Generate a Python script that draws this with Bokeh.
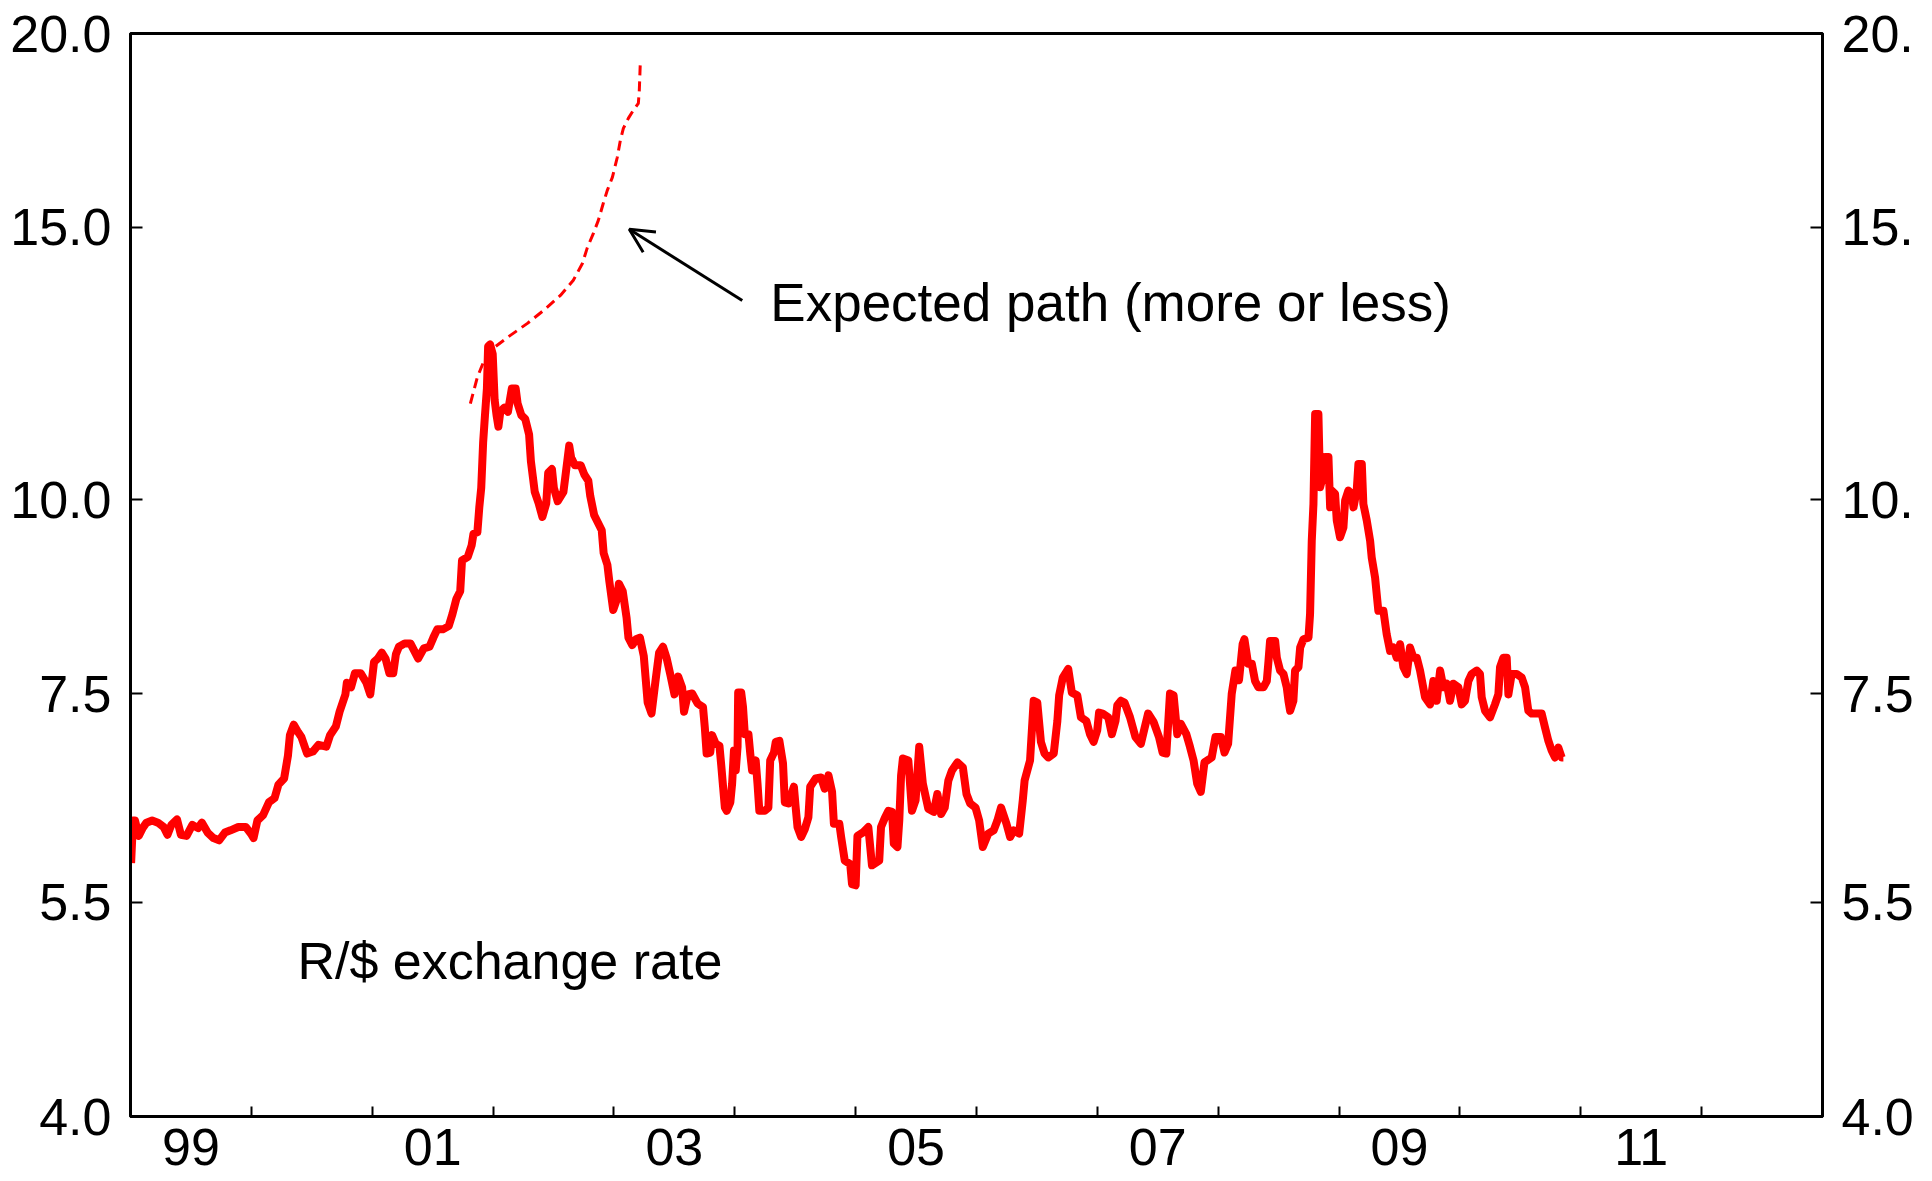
from bokeh.plotting import figure
from bokeh.models import Range1d, LogAxis, FixedTicker, Label, Arrow, OpenHead
from bokeh.embed import file_html
from bokeh.resources import INLINE

FONT = "Liberation Sans"
RED = "#ff0000"

# ---- data ----
dates = [
    1999.005, 1999.021, 1999.037, 1999.069, 1999.100, 1999.132, 1999.179, 1999.227, 1999.274, 1999.306,
    1999.338, 1999.385, 1999.417, 1999.464, 1999.512, 1999.559, 1999.591, 1999.638, 1999.686, 1999.733,
    1999.781, 1999.828, 1999.892, 1999.955, 2000.002, 2000.018, 2000.050, 2000.097, 2000.145, 2000.192,
    2000.224, 2000.271, 2000.303, 2000.319, 2000.351, 2000.382, 2000.414, 2000.461, 2000.509, 2000.556,
    2000.620, 2000.651, 2000.699, 2000.730, 2000.778, 2000.790, 2000.825, 2000.857, 2000.905, 2000.952,
    2000.984, 2001.015, 2001.047, 2001.079, 2001.110, 2001.142, 2001.174, 2001.196, 2001.221, 2001.269,
    2001.316, 2001.348, 2001.380, 2001.427, 2001.474, 2001.506, 2001.538, 2001.585, 2001.633, 2001.664,
    2001.696, 2001.728, 2001.743, 2001.791, 2001.823, 2001.838, 2001.870, 2001.886, 2001.902, 2001.918,
    2001.933, 2001.949, 2001.959, 2001.975, 2001.997, 2002.013, 2002.029, 2002.044, 2002.060, 2002.092,
    2002.123, 2002.155, 2002.187, 2002.203, 2002.234, 2002.266, 2002.298, 2002.313, 2002.345, 2002.377,
    2002.408, 2002.440, 2002.456, 2002.487, 2002.503, 2002.535, 2002.582, 2002.598, 2002.630, 2002.646,
    2002.677, 2002.725, 2002.756, 2002.788, 2002.804, 2002.836, 2002.867, 2002.899, 2002.915, 2002.946,
    2002.962, 2002.994, 2003.025, 2003.041, 2003.073, 2003.105, 2003.120, 2003.152, 2003.184, 2003.215,
    2003.247, 2003.279, 2003.311, 2003.342, 2003.374, 2003.406, 2003.437, 2003.469, 2003.501, 2003.532,
    2003.564, 2003.580, 2003.612, 2003.647, 2003.692, 2003.737, 2003.752, 2003.767, 2003.797, 2003.812,
    2003.842, 2003.873, 2003.888, 2003.903, 2003.918, 2003.933, 2003.963, 2003.978, 2003.993, 2004.008,
    2004.023, 2004.028, 2004.053, 2004.068, 2004.083, 2004.113, 2004.128, 2004.143, 2004.173, 2004.188,
    2004.203, 2004.248, 2004.278, 2004.293, 2004.324, 2004.339, 2004.369, 2004.399, 2004.414, 2004.444,
    2004.489, 2004.504, 2004.519, 2004.549, 2004.579, 2004.609, 2004.624, 2004.669, 2004.714, 2004.744,
    2004.775, 2004.805, 2004.820, 2004.865, 2004.880, 2004.910, 2004.955, 2004.970, 2005.000, 2005.015,
    2005.060, 2005.105, 2005.135, 2005.195, 2005.210, 2005.240, 2005.271, 2005.301, 2005.316, 2005.346,
    2005.361, 2005.376, 2005.391, 2005.436, 2005.466, 2005.496, 2005.526, 2005.556, 2005.601, 2005.646,
    2005.676, 2005.707, 2005.737, 2005.767, 2005.797, 2005.842, 2005.887, 2005.917, 2005.947, 2005.992,
    2006.022, 2006.052, 2006.097, 2006.142, 2006.173, 2006.203, 2006.248, 2006.278, 2006.308, 2006.353,
    2006.383, 2006.398, 2006.443, 2006.473, 2006.503, 2006.533, 2006.563, 2006.594, 2006.639, 2006.669,
    2006.684, 2006.714, 2006.759, 2006.789, 2006.834, 2006.864, 2006.909, 2006.939, 2006.969, 2006.999,
    2007.014, 2007.044, 2007.090, 2007.120, 2007.150, 2007.165, 2007.195, 2007.225, 2007.270, 2007.315,
    2007.360, 2007.390, 2007.420, 2007.465, 2007.510, 2007.540, 2007.571, 2007.601, 2007.631, 2007.661,
    2007.691, 2007.736, 2007.766, 2007.796, 2007.826, 2007.856, 2007.886, 2007.946, 2007.977, 2008.022,
    2008.052, 2008.082, 2008.112, 2008.142, 2008.172, 2008.202, 2008.217, 2008.247, 2008.278, 2008.305,
    2008.333, 2008.374, 2008.402, 2008.416, 2008.429, 2008.471, 2008.485, 2008.512, 2008.540, 2008.567,
    2008.581, 2008.595, 2008.622, 2008.636, 2008.664, 2008.678, 2008.705, 2008.747, 2008.760, 2008.774,
    2008.788, 2008.802, 2008.829, 2008.843, 2008.857, 2008.884, 2008.912, 2008.926, 2008.939, 2008.967,
    2008.981, 2009.008, 2009.036, 2009.050, 2009.077, 2009.105, 2009.119, 2009.146, 2009.160, 2009.188,
    2009.201, 2009.229, 2009.257, 2009.270, 2009.298, 2009.325, 2009.367, 2009.394, 2009.422, 2009.450,
    2009.477, 2009.505, 2009.532, 2009.560, 2009.587, 2009.615, 2009.643, 2009.670, 2009.711, 2009.753,
    2009.780, 2009.808, 2009.836, 2009.863, 2009.891, 2009.918, 2009.946, 2009.987, 2010.015, 2010.042,
    2010.070, 2010.097, 2010.139, 2010.166, 2010.180, 2010.208, 2010.249, 2010.290, 2010.318, 2010.332,
    2010.359, 2010.387, 2010.401, 2010.428, 2010.470, 2010.511, 2010.539, 2010.566, 2010.594, 2010.635,
    2010.676, 2010.704, 2010.732, 2010.759, 2010.787, 2010.814, 2010.842, 2010.856,
]

rand_per_usd = [
    5.83, 6.21, 6.21, 6.07, 6.14, 6.19, 6.21, 6.19, 6.15, 6.08,
    6.17, 6.22, 6.08, 6.07, 6.17, 6.14, 6.19, 6.10, 6.05, 6.03,
    6.10, 6.12, 6.15, 6.15, 6.08, 6.05, 6.21, 6.26, 6.38, 6.42,
    6.55, 6.61, 6.84, 7.05, 7.16, 7.09, 7.03, 6.86, 6.88, 6.95,
    6.93, 7.05, 7.14, 7.30, 7.49, 7.62, 7.57, 7.73, 7.73, 7.62,
    7.49, 7.86, 7.90, 7.97, 7.90, 7.73, 7.73, 7.95, 8.04, 8.08,
    8.08, 7.99, 7.90, 8.02, 8.04, 8.15, 8.25, 8.25, 8.29, 8.44,
    8.63, 8.73, 9.14, 9.19, 9.35, 9.51, 9.53, 9.89, 10.18, 10.90,
    11.34, 11.80, 12.56, 12.60, 12.42, 11.60, 11.34, 11.15, 11.40, 11.47,
    11.40, 11.80, 11.80, 11.54, 11.34, 11.28, 11.02, 10.59, 10.12, 9.95,
    9.75, 9.95, 10.41, 10.47, 10.18, 9.98, 10.12, 10.35, 10.84, 10.65,
    10.53, 10.53, 10.38, 10.29, 10.06, 9.78, 9.67, 9.56, 9.24, 9.08,
    8.86, 8.49, 8.63, 8.83, 8.73, 8.39, 8.15, 8.06, 8.13, 8.15,
    7.93, 7.40, 7.28, 7.62, 7.97, 8.04, 7.90, 7.70, 7.49, 7.69,
    7.57, 7.30, 7.49, 7.50, 7.39, 7.35, 7.13, 6.86, 6.87, 7.05,
    6.96, 6.94, 6.74, 6.53, 6.33, 6.30, 6.38, 6.56, 6.89, 6.69,
    6.93, 7.51, 7.51, 7.35, 7.06, 7.06, 6.86, 6.69, 6.79, 6.56,
    6.30, 6.30, 6.33, 6.79, 6.87, 6.98, 6.99, 6.76, 6.38, 6.37,
    6.53, 6.33, 6.15, 6.06, 6.13, 6.24, 6.53, 6.61, 6.62, 6.51,
    6.64, 6.48, 6.18, 6.18, 6.06, 5.85, 5.82, 5.65, 5.64, 6.07,
    6.10, 6.15, 5.81, 5.85, 6.15, 6.23, 6.30, 6.29, 6.00, 5.97,
    6.21, 6.64, 6.81, 6.79, 6.30, 6.40, 6.93, 6.56, 6.32, 6.29,
    6.46, 6.27, 6.33, 6.59, 6.69, 6.77, 6.72, 6.46, 6.37, 6.33,
    6.21, 5.97, 6.09, 6.12, 6.21, 6.33, 6.18, 6.06, 6.12, 6.09,
    6.40, 6.59, 6.79, 7.42, 7.40, 6.98, 6.86, 6.82, 6.86, 7.20,
    7.48, 7.68, 7.78, 7.51, 7.48, 7.24, 7.20, 7.06, 6.98, 7.10,
    7.29, 7.28, 7.24, 7.06, 7.20, 7.37, 7.42, 7.40, 7.24, 7.03,
    6.96, 7.12, 7.28, 7.19, 7.03, 6.87, 6.86, 7.50, 7.48, 7.06,
    7.17, 7.06, 6.93, 6.79, 6.56, 6.48, 6.77, 6.82, 7.03, 7.03,
    6.87, 6.96, 7.50, 7.76, 7.65, 8.07, 8.13, 7.84, 7.84, 7.64,
    7.57, 7.57, 7.64, 7.87, 8.11, 8.11, 7.91, 7.76, 7.72, 7.57,
    7.42, 7.31, 7.42, 7.76, 7.80, 8.03, 8.13, 8.15, 8.44, 9.41,
    9.94, 11.36, 11.36, 10.19, 10.29, 10.66, 10.66, 9.89, 10.14, 10.09,
    9.70, 9.46, 9.60, 9.99, 10.14, 10.09, 9.89, 10.14, 10.55, 10.55,
    9.94, 9.70, 9.41, 9.18, 8.91, 8.48, 8.48, 8.19, 7.99, 8.03,
    7.91, 8.07, 7.80, 7.72, 8.03, 7.91, 7.91, 7.76, 7.46, 7.38,
    7.64, 7.42, 7.76, 7.57, 7.61, 7.42, 7.61, 7.57, 7.38, 7.42,
    7.64, 7.72, 7.76, 7.72, 7.46, 7.31, 7.24, 7.38, 7.49, 7.80,
    7.91, 7.91, 7.49, 7.72, 7.72, 7.68, 7.57, 7.31, 7.28, 7.28,
    7.28, 7.13, 6.99, 6.89, 6.82, 6.92, 6.82, 6.82,
]

path_dates = [2001.812, 2001.870, 2001.920, 2001.978, 2002.143, 2002.284, 2002.416, 2002.557,
              2002.664, 2002.739, 2002.780, 2002.830, 2002.871, 2002.912, 2002.945, 2002.987,
              2003.028, 2003.053, 2003.078, 2003.119, 2003.160, 2003.202, 2003.210, 2003.218]
path_rates = [11.54, 12.00, 12.27, 12.49, 12.77, 13.00, 13.25, 13.55,
              13.86, 14.21, 14.55, 14.86, 15.15, 15.54, 15.84, 16.15,
              16.64, 17.06, 17.37, 17.63, 17.84, 18.03, 18.38, 19.13]

year_starts = [2000, 2001, 2002, 2003, 2004, 2005, 2006, 2007, 2008, 2009, 2010, 2011, 2012]
year_label_pos = [1999.5, 2001.5, 2003.5, 2005.5, 2007.5, 2009.5, 2011.5]
year_labels = ["99", "01", "03", "05", "07", "09", "11"]

y_ticks = [4.0, 5.5, 7.5, 10.0, 15.0, 20.0]
y_labels_left = ["4.0", "5.5", "7.5", "10.0", "15.0", "20.0"]
y_labels_right = ["4.0", "5.5", "7.5", "10.", "15.", "20."]

# ---- figure ----
p = figure(width=1932, height=1181,
           x_range=Range1d(1999, 2013), y_range=Range1d(4, 20),
           y_axis_type="log", output_backend="svg", toolbar_location=None,
           min_border_left=130, min_border_right=110,
           min_border_top=33, min_border_bottom=65)
p.grid.visible = False
p.outline_line_color = "black"
p.outline_line_width = 3
p.background_fill_color = "white"
p.border_fill_color = "white"

TICK_FONT_SIZE = "52px"

# x axis
xa = p.xaxis[0]
xa.ticker = FixedTicker(ticks=year_label_pos, minor_ticks=year_starts)
xa.major_label_overrides = dict(zip(year_label_pos, year_labels))
xa.major_tick_in = 0
xa.major_tick_out = 0
xa.minor_tick_in = 10
xa.minor_tick_out = 0
xa.minor_tick_line_width = 2
xa.minor_tick_line_color = "black"
xa.axis_line_width = 3
xa.axis_line_color = "black"
xa.major_label_text_font = FONT
xa.major_label_text_font_size = TICK_FONT_SIZE
xa.major_label_text_color = "black"
xa.major_label_standoff = 12

# left y axis
ya = p.yaxis[0]
ya.ticker = FixedTicker(ticks=y_ticks, minor_ticks=[])
ya.major_label_overrides = dict(zip(y_ticks, y_labels_left))
ya.major_tick_in = 12
ya.major_tick_out = 0
ya.major_tick_line_width = 2
ya.minor_tick_in = 0
ya.minor_tick_out = 0
ya.axis_line_width = 3
ya.major_label_text_font = FONT
ya.major_label_text_font_size = TICK_FONT_SIZE
ya.major_label_text_color = "black"
ya.major_label_standoff = 19

# right y axis
ra = LogAxis(ticker=FixedTicker(ticks=y_ticks, minor_ticks=[]),
             major_label_overrides=dict(zip(y_ticks, y_labels_right)),
             major_tick_in=12, major_tick_out=0, major_tick_line_width=2,
             minor_tick_in=0, minor_tick_out=0, axis_line_width=3,
             major_label_text_font=FONT, major_label_text_font_size=TICK_FONT_SIZE,
             major_label_text_color="black", major_label_standoff=19)
p.add_layout(ra, "right")

# data lines
p.line(dates, rand_per_usd, line_color=RED, line_width=8, line_join="round")
p.line(path_dates, path_rates, line_color=RED, line_width=3, line_dash="10 6")

# annotations
p.add_layout(Label(x=2004.294, y=13.41, text="Expected path (more or less)",
                   text_font=FONT, text_font_size="53px", text_color="black",
                   text_align="left", text_baseline="alphabetic"))
p.add_layout(Label(x=2000.381, y=5.04, text="R/$ exchange rate",
                   text_font=FONT, text_font_size="52px", text_color="black",
                   text_align="left", text_baseline="alphabetic"))
p.add_layout(Arrow(end=OpenHead(size=24, line_width=3, line_color="black"),
                   x_start=2004.062, y_start=13.45, x_end=2003.127, y_end=14.95,
                   line_width=3, line_color="black"))

open("out.html", "w").write(file_html(p, INLINE))
